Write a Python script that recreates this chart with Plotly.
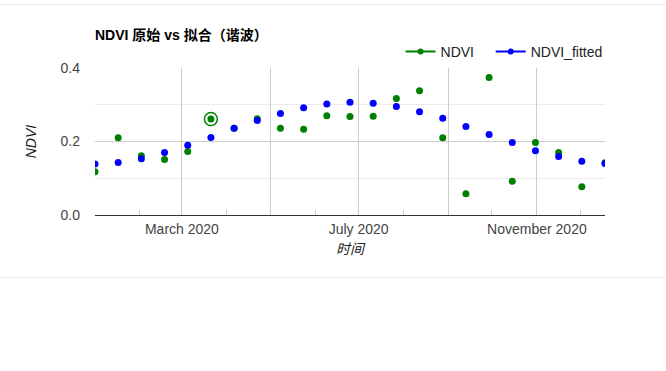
import plotly.graph_objects as go

dates = ["2020-01-01", "2020-01-17", "2020-02-02", "2020-02-18", "2020-03-05", "2020-03-21",
         "2020-04-06", "2020-04-22", "2020-05-08", "2020-05-24", "2020-06-09", "2020-06-25",
         "2020-07-11", "2020-07-27", "2020-08-12", "2020-08-28", "2020-09-13", "2020-09-29",
         "2020-10-15", "2020-10-31", "2020-11-16", "2020-12-02", "2020-12-18"]
ndvi = [0.118, 0.210, 0.161, 0.151, 0.173, 0.261, 0.236, 0.262, 0.236, 0.233, 0.270, 0.268,
        0.269, 0.317, 0.338, 0.210, 0.058, 0.374, 0.092, 0.197, 0.170, 0.077, 0.142]
ndvi_fitted = [0.139, 0.143, 0.153, 0.170, 0.190, 0.211, 0.236, 0.257, 0.276, 0.292, 0.302, 0.307,
               0.304, 0.295, 0.281, 0.263, 0.241, 0.219, 0.197, 0.175, 0.159, 0.146, 0.140]
selected_index = 5

major_ticks = ["2020-03-01", "2020-05-01", "2020-07-01", "2020-09-01", "2020-11-01"]
major_text = ["March 2020", "", "July 2020", "", "November 2020"]
minor_ticks = ["2020-02-01", "2020-04-01", "2020-06-01", "2020-08-01", "2020-10-01", "2020-12-01"]
y_ticks = [0.0, 0.2, 0.4]
y_text = ["0.0", "0.2", "0.4"]
y_minor = [0.1, 0.3]

GREEN = "#008000"
BLUE = "#0000ff"
FONT = "Arial, 'Liberation Sans', 'Noto Sans CJK SC', sans-serif"

fig = go.Figure()
fig.add_trace(go.Scatter(
    x=dates, y=ndvi, name="NDVI", mode="markers",
    marker=dict(color=GREEN, size=7), showlegend=False,
))
fig.add_trace(go.Scatter(
    x=dates, y=ndvi_fitted, name="NDVI_fitted", mode="markers",
    marker=dict(color=BLUE, size=7), showlegend=False,
))
# selected point ring
fig.add_trace(go.Scatter(
    x=[dates[selected_index]], y=[ndvi[selected_index]], mode="markers",
    marker=dict(symbol="circle-open", size=13, color=GREEN, line=dict(width=1.5, color=GREEN)),
    showlegend=False, hoverinfo="skip",
))
# legend entries with line + dot
fig.add_trace(go.Scatter(x=[None], y=[None], name="NDVI\u00a0\u00a0\u00a0", mode="lines+markers",
                         marker=dict(color=GREEN, size=6), line=dict(color=GREEN, width=2)))
fig.add_trace(go.Scatter(x=[None], y=[None], name="NDVI_fitted", mode="lines+markers",
                         marker=dict(color=BLUE, size=6), line=dict(color=BLUE, width=2)))

fig.update_layout(
    width=666, height=371,
    margin=dict(l=95, r=61, t=68, b=156, autoexpand=False),
    paper_bgcolor="white", plot_bgcolor="white",
    font=dict(family=FONT, size=14, color="#444"),
    title=dict(text="<b>NDVI 原始 vs 拟合（谐波）</b>", x=95 / 666, xanchor="left",
               y=1 - 35 / 371, yanchor="middle",
               font=dict(size=14, color="#000", family=FONT)),
    legend=dict(orientation="h", x=1.005, xanchor="right", y=1 + 16 / 147, yanchor="middle",
                font=dict(size=14, color="#222"), bgcolor="rgba(0,0,0,0)",
                itemwidth=30, tracegroupgap=0),
    showlegend=True,
    hovermode="closest",
    xaxis=dict(
        type="date", range=["2020-01-01", "2020-12-18"],
        tickmode="array", tickvals=major_ticks, ticktext=major_text,
        ticks="", showgrid=True, gridcolor="#cccccc", gridwidth=1,
        showline=True, linecolor="#333", linewidth=1,
        zeroline=False, automargin=False, ticklabelstandoff=1,
        tickfont=dict(size=14, color="#444"),
        minor=dict(tickmode="array", tickvals=minor_ticks, ticks="inside", ticklen=5,
                   tickcolor="#cccccc", showgrid=False),
        title=dict(text="<i>时间</i>", font=dict(size=14, color="#222"), standoff=8),
    ),
    yaxis=dict(
        range=[0, 0.4], tickmode="array", tickvals=y_ticks, ticktext=y_text,
        ticks="", showgrid=True, gridcolor="#cccccc", gridwidth=1,
        zeroline=False, showline=False, automargin=False, ticklabelstandoff=14,
        tickfont=dict(size=14, color="#444"),
        minor=dict(tickmode="array", tickvals=y_minor, showgrid=True, gridcolor="#ebebeb",
                   ticks=""),
        title=dict(text="<i>NDVI</i>", font=dict(size=14, color="#222"), standoff=20),
    ),
    shapes=[
        dict(type="line", xref="paper", yref="paper", x0=-95 / 510, x1=571 / 510,
             y0=(215 - 4.5) / 147, y1=(215 - 4.5) / 147, line=dict(color="#ebebeb", width=1)),
        dict(type="line", xref="paper", yref="paper", x0=-95 / 510, x1=571 / 510,
             y0=(215 - 277.5) / 147, y1=(215 - 277.5) / 147, line=dict(color="#ebebeb", width=1)),
    ],
)

fig.write_html("out.html", config={"displayModeBar": False},
               post_script="document.body.style.margin='0';")
